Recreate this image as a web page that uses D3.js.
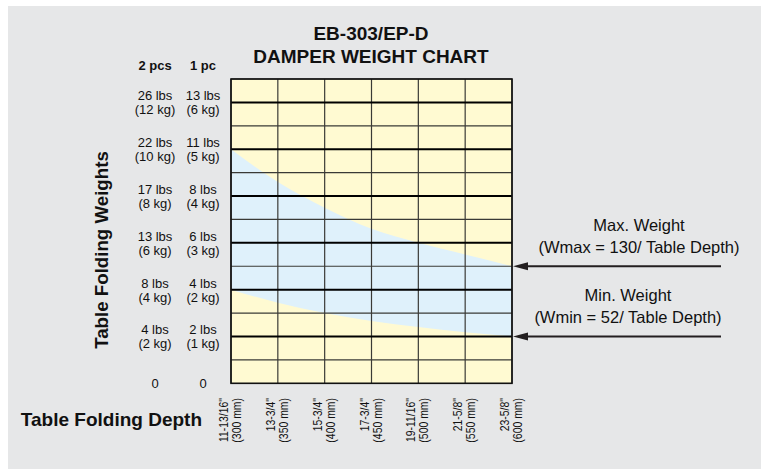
<!DOCTYPE html>
<html>
<head>
<meta charset="utf-8">
<script src="https://cdn.jsdelivr.net/npm/d3@7"></script>
<style>
  body { margin: 0; background: #fff; }
  svg { display: block; font-family: "Liberation Sans", Arial, Helvetica, sans-serif; }
</style>
</head>
<body>
<div id="chart"></div>
<script>
// table depth categories (x)
const depthMm = [300, 350, 400, 450, 500, 550, 600]
const depthInch = ['11-13/16"', '13-3/4"', '15-3/4"', '17-3/4"', '19-11/16"', '21-5/8"', '23-5/8"']
const depthMmLabels = ['(300 mm)', '(350 mm)', '(400 mm)', '(450 mm)', '(500 mm)', '(550 mm)', '(600 mm)']

// weight ticks (y), one damper in kg
const weightKg = [0, 1, 2, 3, 4, 5, 6]
const twoPcsLbs = ['0', '4 lbs', '8 lbs', '13 lbs', '17 lbs', '22 lbs', '26 lbs']
const twoPcsKg = ['', '(2 kg)', '(4 kg)', '(6 kg)', '(8 kg)', '(10 kg)', '(12 kg)']
const onePcLbs = ['0', '2 lbs', '4 lbs', '6 lbs', '8 lbs', '11 lbs', '13 lbs']
const onePcKg = ['', '(1 kg)', '(2 kg)', '(3 kg)', '(4 kg)', '(5 kg)', '(6 kg)']

// band limits (kg, 1 pc)
const maxWeightKg = [5.0, 4.3, 3.75, 3.3, 3.0, 2.75, 2.5]
const minWeightKg = [2.0, 1.72, 1.5, 1.33, 1.2, 1.09, 1.0]

const config = {
  width: 761,
  height: 469,
  margin: { top: 79, right: 249, bottom: 85.7, left: 231 },
  yMax: 6.5,
  colours: { panel: '#e6e7e8', yellow: '#fffad2', blue: '#dff1fb', line: '#231f20' }
}

const x = d3.scaleLinear()
  .domain(d3.extent(depthMm))
  .range([config.margin.left, config.width - config.margin.right])

const y = d3.scaleLinear()
  .domain([0, config.yMax])
  .range([config.height - config.margin.bottom, config.margin.top])

const svg = d3.select('#chart')
  .append('svg')
    .attr('width', config.width)
    .attr('height', config.height)
    .attr('viewBox', [0, 0, config.width, config.height])

svg.append('rect')
  .attr('x', 8).attr('y', 6)
  .attr('width', config.width - 8).attr('height', config.height - 6)
  .attr('fill', config.colours.panel)

const [x0, x1] = x.range()
const [y0, y1] = y.range()

// plot background + band
svg.append('rect')
  .attr('x', x0).attr('y', y1)
  .attr('width', x1 - x0).attr('height', y0 - y1)
  .attr('fill', config.colours.yellow)

svg.append('path')
  .datum(depthMm)
  .attr('fill', config.colours.blue)
  .attr('d', d3.area()
    .x(d => x(d))
    .y0((d, i) => y(minWeightKg[i]))
    .y1((d, i) => y(maxWeightKg[i]))
    .curve(d3.curveMonotoneX))

// grid
const halfSteps = d3.range(0, config.yMax * 2 + 1).map(i => i / 2)

svg.append('g').attr('class', 'grid minor')
  .selectAll('line')
  .data(halfSteps.filter(d => d % 1 !== 0))
  .join('line')
    .attr('x1', x0).attr('x2', x1)
    .attr('y1', d => y(d)).attr('y2', d => y(d))
    .attr('stroke', '#3a3a36').attr('stroke-width', 1.2)

svg.append('g').attr('class', 'grid vertical')
  .selectAll('line')
  .data(depthMm)
  .join('line')
    .attr('x1', d => x(d)).attr('x2', d => x(d))
    .attr('y1', y1).attr('y2', y0)
    .attr('stroke', '#3a3a36').attr('stroke-width', 1.2)

svg.append('g').attr('class', 'grid major')
  .selectAll('line')
  .data(weightKg.filter(d => d > 0))
  .join('line')
    .attr('x1', x0).attr('x2', x1)
    .attr('y1', d => y(d)).attr('y2', d => y(d))
    .attr('stroke', '#000').attr('stroke-width', 2)

svg.append('rect')
  .attr('x', x0).attr('y', y1)
  .attr('width', x1 - x0).attr('height', y0 - y1)
  .attr('fill', 'none')
  .attr('stroke', '#111').attr('stroke-width', 1.6)

// title
svg.append('g')
    .attr('font-weight', 'bold').attr('font-size', 19).attr('text-anchor', 'middle')
    .attr('fill', '#111')
  .selectAll('text')
  .data(['EB-303/EP-D', 'DAMPER WEIGHT CHART'])
  .join('text')
    .attr('x', 371)
    .attr('y', (d, i) => 40 + i * 23)
    .text(d => d)

// y tick columns
const columns = [
  { head: '2 pcs', cx: 155, lbs: twoPcsLbs, kg: twoPcsKg },
  { head: '1 pc', cx: 203, lbs: onePcLbs, kg: onePcKg }
]

columns.forEach(col => {
  svg.append('text')
    .attr('x', col.cx).attr('y', 70)
    .attr('text-anchor', 'middle')
    .attr('font-weight', 'bold').attr('font-size', 13)
    .attr('fill', '#111')
    .text(col.head)

  svg.append('g')
      .attr('font-size', 13).attr('text-anchor', 'middle').attr('fill', '#111')
    .selectAll('g')
    .data(weightKg)
    .join('g')
      .attr('transform', d => `translate(${col.cx},${y(d)})`)
    .call(g => g.append('text')
      .attr('y', (d, i) => col.kg[i] ? -2 : 4.5)
      .text((d, i) => col.lbs[i]))
    .call(g => g.append('text')
      .attr('y', 12)
      .text((d, i) => col.kg[i]))
})

// x tick labels (narrow type, as in the original)
svg.append('g')
    .attr('font-size', 12).attr('text-anchor', 'end').attr('fill', '#111')
  .selectAll('g')
  .data(depthMm)
  .join('g')
    .attr('transform', d => `translate(${x(d)},398) rotate(-90) scale(0.87,1)`)
  .call(g => g.append('text')
    .attr('y', -3)
    .text((d, i) => depthInch[i]))
  .call(g => g.append('text')
    .attr('y', 10)
    .text((d, i) => depthMmLabels[i]))

// axis titles
svg.append('text')
  .attr('transform', 'translate(108,250) rotate(-90)')
  .attr('text-anchor', 'middle')
  .attr('font-weight', 'bold').attr('font-size', 18.7)
  .attr('fill', '#111')
  .text('Table Folding Weights')

svg.append('text')
  .attr('x', 202).attr('y', 426)
  .attr('text-anchor', 'end')
  .attr('font-weight', 'bold').attr('font-size', 19)
  .attr('fill', '#111')
  .text('Table Folding Depth')

// callouts
const callouts = [
  { lines: ['Max. Weight', '(Wmax = 130/ Table Depth)'], cx: 639, value: maxWeightKg[maxWeightKg.length - 1] },
  { lines: ['Min. Weight', '(Wmin = 52/ Table Depth)'], cx: 628, value: minWeightKg[minWeightKg.length - 1] }
]

const callout = svg.append('g').attr('class', 'callouts')
  .selectAll('g')
  .data(callouts)
  .join('g')

callout.append('text')
    .attr('font-size', 16.5).attr('text-anchor', 'middle').attr('fill', '#111')
  .selectAll('tspan')
  .data(d => d.lines.map(line => ({ line, d })))
  .join('tspan')
    .attr('x', t => t.d.cx)
    .attr('y', (t, i) => y(t.d.value) - 35 + i * 21.5)
    .text(t => t.line)

callout.append('line')
  .attr('x1', 721).attr('x2', x1 + 12)
  .attr('y1', d => y(d.value)).attr('y2', d => y(d.value))
  .attr('stroke', config.colours.line).attr('stroke-width', 1.8)

callout.append('path')
  .attr('fill', config.colours.line)
  .attr('d', d => {
    const ty = y(d.value)
    return `M${x1 + 1},${ty} L${x1 + 16},${ty - 4} L${x1 + 16},${ty + 4} Z`
  })
</script>
</body>
</html>
